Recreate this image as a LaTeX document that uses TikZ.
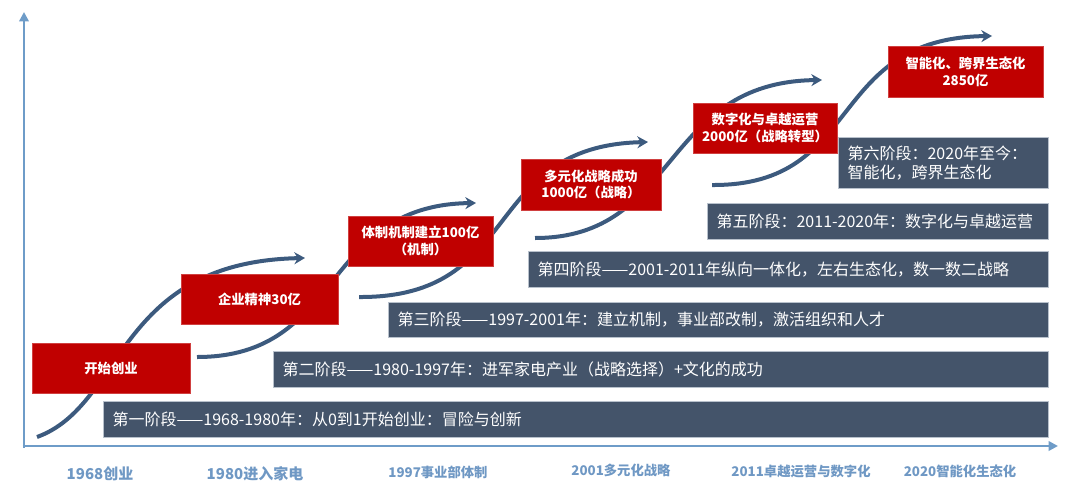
\documentclass[tikz,border=0pt]{standalone}
\usepackage{fontspec}
\newfontfamily\cjk{Noto Sans CJK SC}
\usetikzlibrary{arrows.meta}
\usetikzlibrary{positioning}
\definecolor{redbox}{HTML}{C00000}
\definecolor{stagebg}{HTML}{44546A}
\definecolor{stageline}{HTML}{B8C1CC}
\definecolor{axisblue}{HTML}{6E9CC8}
\definecolor{curveblue}{HTML}{3C5A7E}
\definecolor{labelblue}{HTML}{6F98C4}
\tikzset{
  milestone/.style={fill=redbox, draw=redbox!75!white, line width=0.4pt, text=white, align=center, inner sep=0pt,
    font=\cjk\bfseries\fontsize{10}{12.5}\selectfont},
  stagebox/.style={fill=stagebg, draw=stageline, line width=0.6pt, anchor=north west, inner sep=0pt},
  stagetext/.style={text=white, inner sep=0pt, align=left, font=\cjk\fontsize{12}{14.5}\selectfont},
  yearlabel/.style={text=labelblue, inner sep=0pt, font=\cjk\bfseries\fontsize{10}{12}\selectfont},
  growth/.style={draw=curveblue, line width=3pt, -{Stealth[length=8pt,width=9pt]}},
  axisline/.style={draw=axisblue, line width=2.2pt, -{Triangle[length=7pt,width=7pt]}}
}

\begin{document}
\begin{tikzpicture}[x=0.75pt,y=0.75pt,yscale=-1,xscale=1]
\useasboundingbox (0,0) rectangle (1080,489);

%Axes
\coordinate (ybase) at (24,447.5);
\coordinate (ytop) at (24,12);
\coordinate (xbase) at (22.5,446);
\coordinate (xend) at (1058,446);
\draw[axisline] (ybase) -- (ytop);
\draw[axisline] (xbase) -- (xend);

%Growth curves
\coordinate (g1s) at (37,437);
\coordinate (g1e) at (305,258);
\draw[growth] (g1s) .. controls (125,405) and (115,262) .. (g1e);
\coordinate (g2s) at (197,357);
\coordinate (g2e) at (476,203);
\draw[growth] (g2s) .. controls (345,357) and (320,205) .. (g2e);
\coordinate (g3s) at (359,297);
\coordinate (g3e) at (648,142);
\draw[growth] (g3s) .. controls (525,298) and (480,146) .. (g3e);
\coordinate (g4s) at (535,238);
\coordinate (g4e) at (822,80);
\draw[growth] (g4s) .. controls (680,238) and (660,82) .. (g4e);
\coordinate (g5s) at (712,185);
\coordinate (g5e) at (992,36);
\draw[growth] (g5s) .. controls (865,186) and (825,38) .. (g5e);

%Stage bars
\node[stagebox, minimum width=708.75pt, minimum height=27pt] (s1) at (103,401) {};
\node[stagetext, right=7pt of s1.west] (s1t) {第一阶段——1968-1980年：从0到1开始创业：冒险与创新};
\node[stagebox, minimum width=581.25pt, minimum height=27pt] (s2) at (273,351) {};
\node[stagetext, right=7pt of s2.west] (s2t) {第二阶段——1980-1997年：进军家电产业（战略选择）+文化的成功};
\node[stagebox, minimum width=495pt, minimum height=26.25pt] (s3) at (388,302) {};
\node[stagetext, right=7pt of s3.west] (s3t) {第三阶段——1997-2001年：建立机制，事业部改制，激活组织和人才};
\node[stagebox, minimum width=390pt, minimum height=27pt] (s4) at (528,251) {};
\node[stagetext, right=7pt of s4.west] (s4t) {第四阶段——2001-2011年纵向一体化，左右生态化，数一数二战略};
\node[stagebox, minimum width=255.75pt, minimum height=27pt] (s5) at (707,203) {};
\node[stagetext, right=7pt of s5.west] (s5t) {第五阶段：2011-2020年：数字化与卓越运营};
\node[stagebox, minimum width=157.5pt, minimum height=38.25pt] (s6) at (838,137) {};
\node[stagetext, right=7pt of s6.west] (s6t) {第六阶段：2020年至今：\\智能化，跨界生态化};

%Milestones
\node[milestone, minimum width=118.5pt, minimum height=37.5pt] (m1) at (111,368) {开始创业};
\node[milestone, minimum width=117.75pt, minimum height=37.5pt] (m2) at (259.5,299) {企业精神30亿};
\node[milestone, minimum width=108.75pt, minimum height=37.5pt] (m3) at (420.5,241) {体制机制建立100亿\\（机制）};
\node[milestone, minimum width=105pt, minimum height=38.25pt] (m4) at (591,184.5) {多元化战略成功\\1000亿（战略）};
\node[milestone, minimum width=108pt, minimum height=37.5pt] (m5) at (765,128) {数字化与卓越运营\\2000亿（战略转型）};
\node[milestone, minimum width=116.25pt, minimum height=38.25pt] (m6) at (965.5,71.5) {智能化、跨界生态化\\2850亿};

%Year labels
\node[yearlabel, font=\cjk\bfseries\fontsize{11.25}{13}\selectfont] (y1968) at (100,474) {1968创业};
\node[yearlabel, font=\cjk\bfseries\fontsize{11.25}{13}\selectfont] (y1980) at (255,474) {1980进入家电};
\node[yearlabel] (y1997) at (438,472) {1997事业部体制};
\node[yearlabel] (y2001) at (621,470) {2001多元化战略};
\node[yearlabel] (y2011) at (801,471) {2011卓越运营与数字化};
\node[yearlabel] (y2020) at (960,471) {2020智能化生态化};

\end{tikzpicture}
\end{document}
